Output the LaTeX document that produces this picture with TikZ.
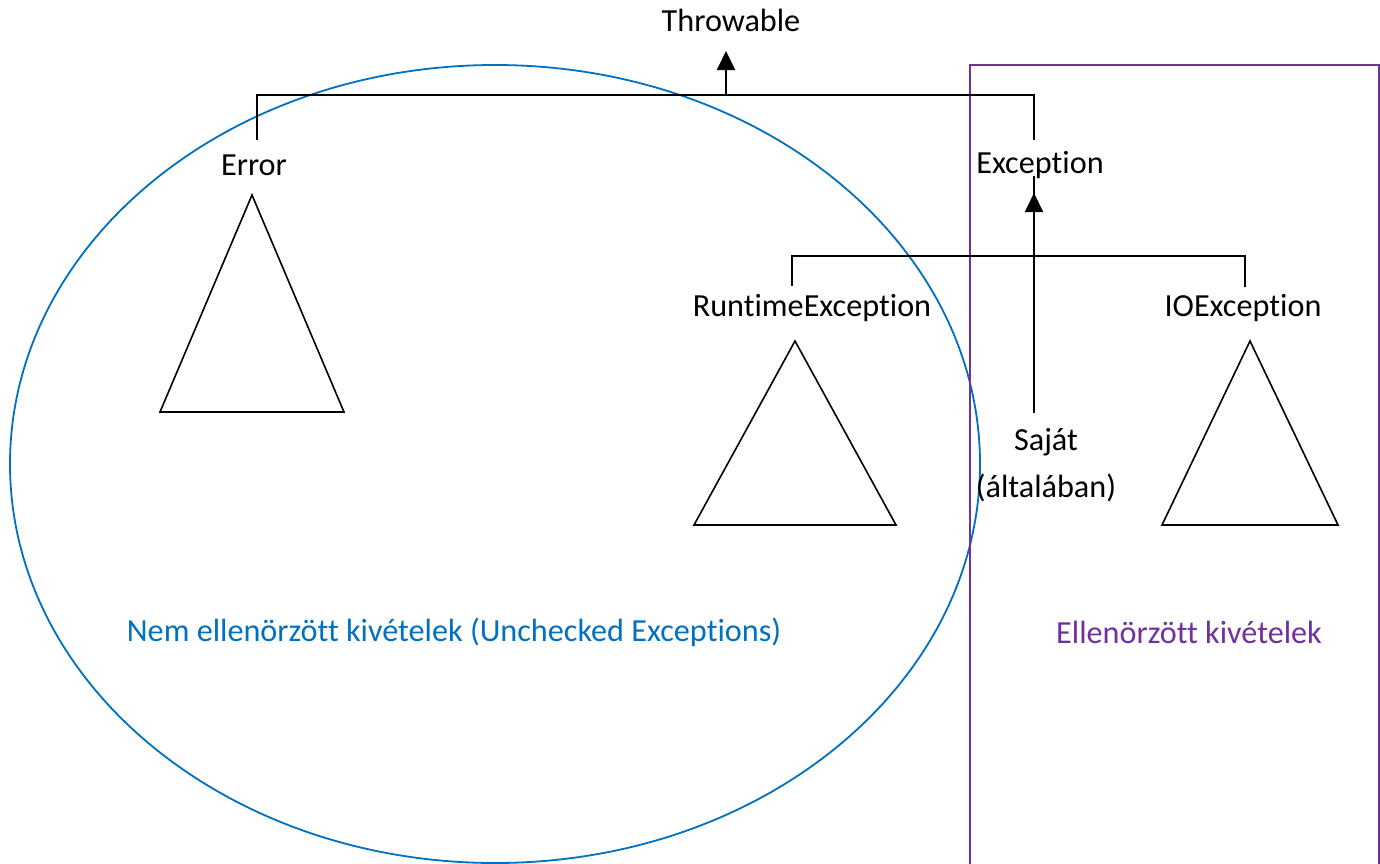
\documentclass[tikz,border=0pt]{standalone}
\usepackage{fontspec}
\setmainfont{Carlito}[Ligatures={NoCommon}]
\usetikzlibrary{arrows.meta}
\definecolor{uncheckedblue}{HTML}{0070C0}
\definecolor{checkedpurple}{HTML}{7030A0}
\tikzset{
  lbl/.style={inner sep=0pt, font=\fontsize{32.2}{39}\selectfont},
  link/.style={draw=black, line width=1.9pt},
  up/.style={link, -{Triangle[width=18pt,length=19pt]}},
  tri/.style={draw=black, line width=1.6pt},
}
\begin{document}
\begin{tikzpicture}[x=1pt,y=-1pt]
\useasboundingbox (0,0) rectangle (1380,863);
\clip (0,0) rectangle (1380,863);
\fill[white] (0,0) rectangle (1380,863);

% regions: unchecked (ellipse) and checked (open box)
\draw[uncheckedblue, line width=1.8pt] (495,464) ellipse [x radius=485pt, y radius=399pt];
\draw[checkedpurple, line width=2pt] (970,900) -- (970,65) -- (1379,65) -- (1379,900);

% class names
\node[lbl] (thr) at (731,20) {Throwable};
\node[lbl] (err) at (254,165) {Error};
\node[lbl] (exc) at (1040,165) {Exception};
\node[lbl] (rte) at (812,308) {RuntimeException};
\node[lbl] (ioe) at (1243,308) {IOException};
\node[lbl, align=center, font=\fontsize{32.2}{47}\selectfont] (own) at (1046,465) {Saját\\(általában)};
\node[lbl, text=uncheckedblue] (unc) at (454,632) {Nem ellenörzött kivételek (Unchecked Exceptions)};
\node[lbl, text=checkedpurple] (chk) at (1189,632) {Ellenörzött kivételek};

% Throwable subtree
\coordinate (thrtip) at (726,51);
\coordinate (bus1) at (726,95);
\coordinate (errtop) at (257,140);
\coordinate (exctop) at (1034,140);
\draw[link] (errtop) -- (errtop |- bus1) -- (exctop |- bus1) -- (exctop);
\draw[up] (bus1) -- (thrtip);

% Exception subtree
\coordinate (exctip) at (1034,193);
\coordinate (bus2) at (1034,256);
\coordinate (rtetop) at (792,286);
\coordinate (ioetop) at (1245,287);
\coordinate (owntop) at (1034,413);
\draw[link] (rtetop) -- (rtetop |- bus2) -- (ioetop |- bus2) -- (ioetop);
\draw[up] (owntop) -- (exctip);
\draw[link, line width=2.6pt] (bus2) -- ([yshift=17pt]exctip);

% hierarchy triangles
\draw[tri] (252,195) -- (344,412) -- (160,412) -- cycle;
\draw[tri] (795,341) -- (896,525) -- (694,525) -- cycle;
\draw[tri] (1250,341) -- (1338,525) -- (1162,525) -- cycle;
\end{tikzpicture}
\end{document}
